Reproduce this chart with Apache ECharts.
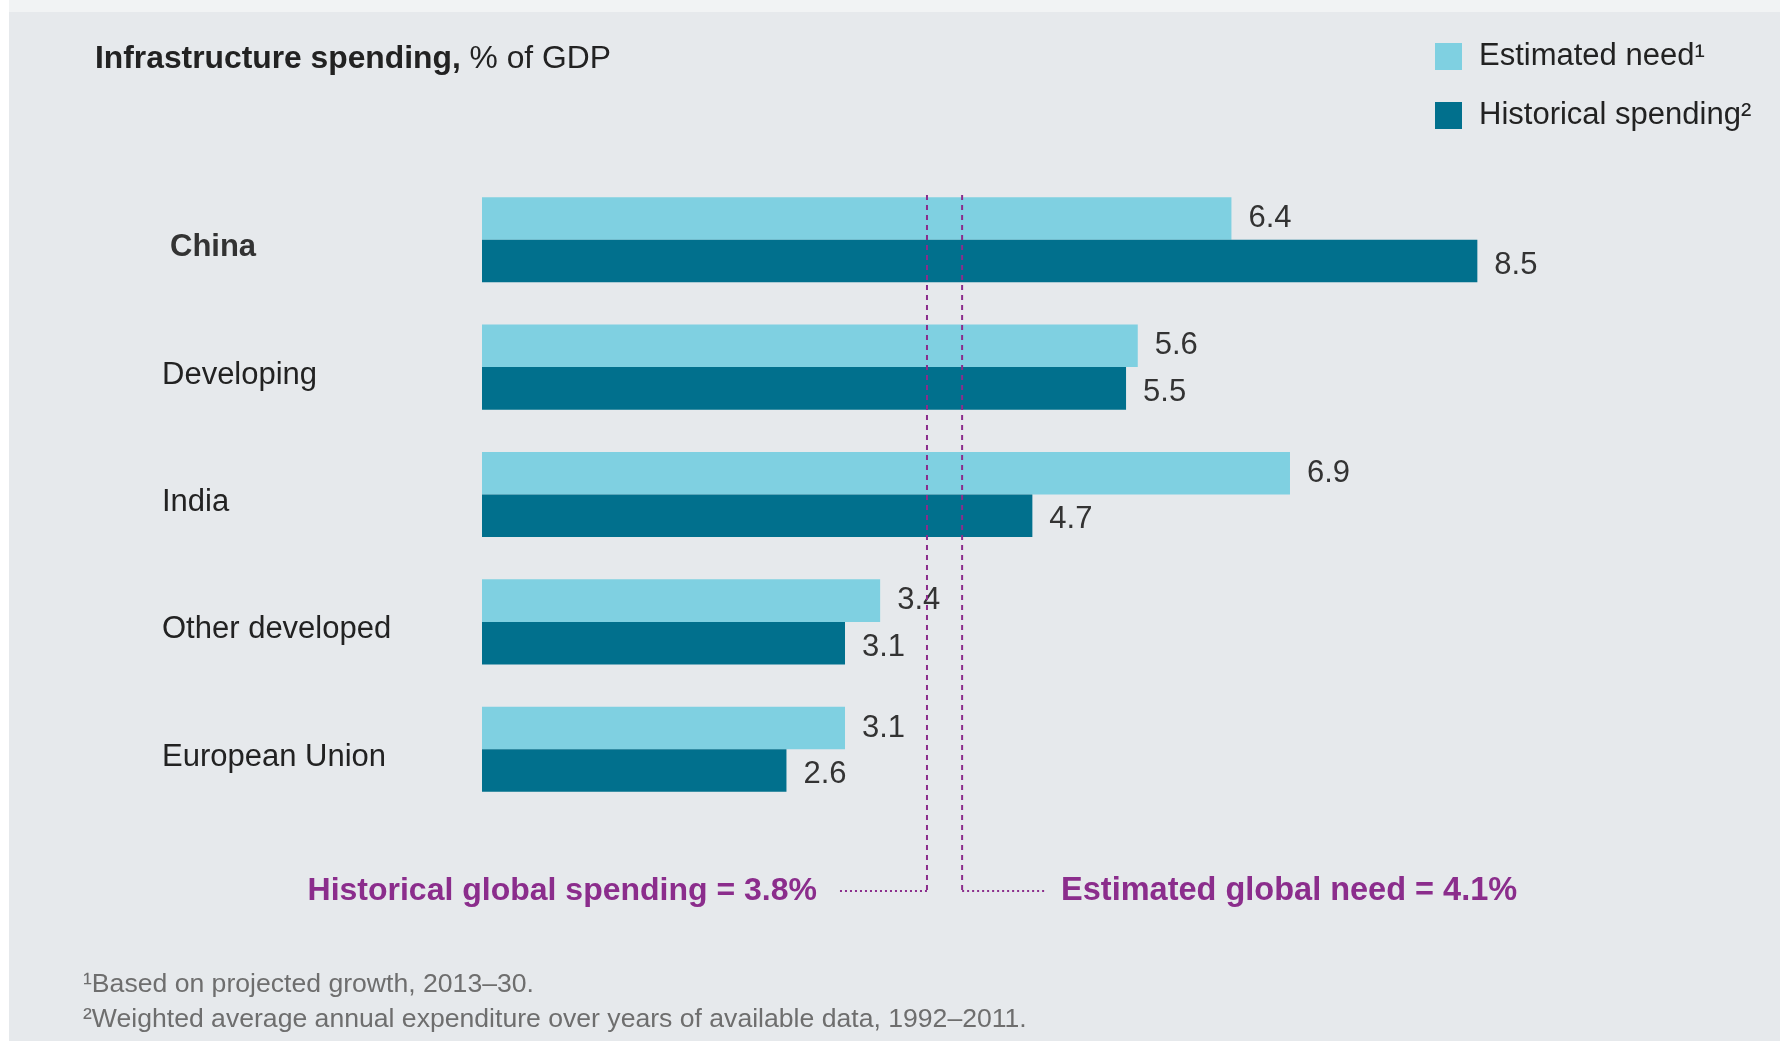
<!DOCTYPE html>
<html>
<head>
<meta charset="utf-8">
<script src="https://cdn.jsdelivr.net/npm/echarts@6/dist/echarts.min.js"></script>
<style>
  html,body{margin:0;padding:0;background:#ffffff;}
  #bg{position:absolute;left:9px;top:0;width:1771px;height:1041px;background:#e6e9ec;}
  #bgtop{position:absolute;left:9px;top:0;width:1771px;height:12px;background:#f1f3f4;}
  #chart{position:absolute;left:0;top:0;width:1780px;height:1041px;}
</style>
</head>
<body>
<div id="bg"></div>
<div id="bgtop"></div>
<div id="chart"></div>
<script>
// ---- data ----
var categories = ['China', 'Developing', 'India', 'Other developed', 'European Union'];
var estimatedNeed = [6.4, 5.6, 6.9, 3.4, 3.1];
var historicalSpending = [8.5, 5.5, 4.7, 3.1, 2.6];
var seriesNames = ['Estimated need\u00B9', 'Historical spending\u00B2'];
var globalHistorical = 3.8;
var globalNeed = 4.1;
var globalLabels = ['Historical global spending = 3.8%', 'Estimated global need = 4.1%'];
var footnotes = ['\u00B9Based on projected growth, 2013\u201330.',
                 '\u00B2Weighted average annual expenditure over years of available data, 1992\u20132011.'];

var FONT = '"Liberation Sans", Arial, Helvetica, sans-serif';
var LIGHT = '#7fd0e1', DARK = '#01708d', PURPLE = '#8b2d8c';

var chart = echarts.init(document.getElementById('chart'), null, {renderer: 'canvas'});

var valueLabel = function (dy) {
  return {show: true, position: 'right', distance: 17, fontSize: 31, color: '#333', fontFamily: FONT,
          offset: [0, dy], formatter: function (p) { return p.value.toFixed(1); }};
};

var option = {
  backgroundColor: 'transparent',
  animation: false,
  textStyle: {fontFamily: FONT},
  legend: {
    orient: 'vertical',
    left: 1430, top: 36,
    itemWidth: 27, itemHeight: 27, itemGap: 28,
    icon: 'rect',
    textStyle: {fontSize: 31, color: '#222', fontFamily: FONT, padding: [4, 0, 0, 12]},
    data: seriesNames
  },
  grid: {left: 482, width: 1171, top: 176, height: 637, containLabel: false},
  xAxis: {type: 'value', min: 0, max: 10, show: false},
  yAxis: {
    type: 'category', inverse: true, data: categories,
    axisLine: {show: false}, axisTick: {show: false}, splitLine: {show: false},
    axisLabel: {
      align: 'left', margin: 320, fontSize: 31, color: '#222', fontFamily: FONT,
      padding: [16, 0, 0, 0],
      formatter: function (v) { return v === 'China' ? '{b|' + v + '}' : v; },
      rich: {b: {fontWeight: 'bold', fontSize: 31, color: '#333', padding: [0, 0, 0, 8], fontFamily: FONT}}
    }
  },
  series: [
    {
      name: seriesNames[0], type: 'bar', data: estimatedNeed,
      barGap: '0%', barCategoryGap: '33.2%',
      itemStyle: {color: LIGHT},
      label: valueLabel(0)
    },
    {
      name: seriesNames[1], type: 'bar', data: historicalSpending,
      barGap: '0%', barCategoryGap: '33.2%',
      itemStyle: {color: DARK},
      label: valueLabel(4)
    }
  ]
};
chart.setOption(option);

function buildGraphics() {
  var xH = chart.convertToPixel({xAxisIndex: 0}, globalHistorical);
  var xN = chart.convertToPixel({xAxisIndex: 0}, globalNeed);
  var yTop = 195, yBot = 891;
  var g = [];
  g.push({type: 'text', left: 95, top: 43, style: {
    text: '{b|Infrastructure spending,}{r| % of GDP}',
    rich: {b: {fontWeight: 'bold', fontSize: 31.8, fill: '#222', fontFamily: FONT},
           r: {fontSize: 31.8, fill: '#222', fontFamily: FONT}}
  }});
  var dash = {stroke: PURPLE, lineWidth: 2, lineDash: [5, 5]};
  var dot = {stroke: PURPLE, lineWidth: 2, lineDash: [2, 3]};
  g.push({type: 'line', shape: {x1: xH, y1: yTop, x2: xH, y2: yBot}, style: dash, z: 10});
  g.push({type: 'line', shape: {x1: xN, y1: yTop, x2: xN, y2: yBot}, style: dash, z: 10});
  g.push({type: 'line', shape: {x1: xH - 87, y1: yBot, x2: xH, y2: yBot}, style: dot, z: 10});
  g.push({type: 'line', shape: {x1: xN, y1: yBot, x2: xN + 85, y2: yBot}, style: dot, z: 10});
  g.push({type: 'text', x: xH - 110, y: yBot, style: {
    text: globalLabels[0], fill: PURPLE, fontWeight: 'bold', fontSize: 32, fontFamily: FONT,
    align: 'right', verticalAlign: 'middle'}});
  g.push({type: 'text', x: xN + 99, y: yBot, style: {
    text: globalLabels[1], fill: PURPLE, fontWeight: 'bold', fontSize: 32.5, fontFamily: FONT,
    align: 'left', verticalAlign: 'middle'}});
  g.push({type: 'text', x: 83, y: 985, style: {text: footnotes[0], fill: '#6e6e6e', fontSize: 26.6,
    fontFamily: FONT, align: 'left', verticalAlign: 'middle'}});
  g.push({type: 'text', x: 83, y: 1020, style: {text: footnotes[1], fill: '#6e6e6e', fontSize: 26.6,
    fontFamily: FONT, align: 'left', verticalAlign: 'middle'}});
  chart.setOption({graphic: g});
}
buildGraphics();
</script>
</body>
</html>
